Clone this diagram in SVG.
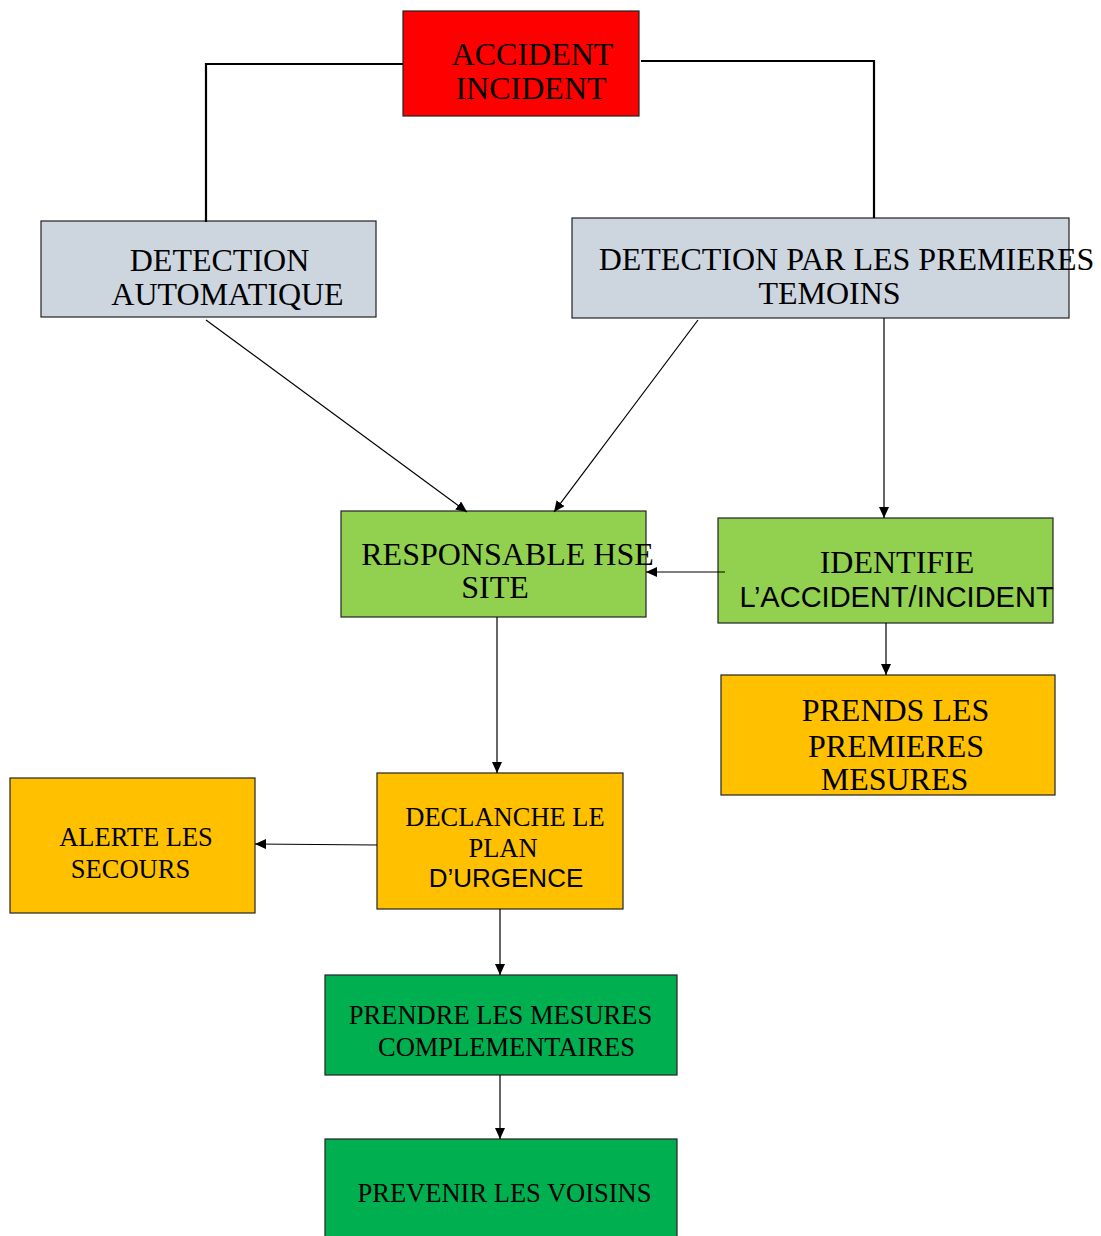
<svg xmlns="http://www.w3.org/2000/svg" width="1101" height="1236" viewBox="0 0 1101 1236">
<style>
  .box { stroke: #222; stroke-width: 1.2; }
  .t { font-family: "Liberation Serif", "Times New Roman", serif; fill: #000; text-anchor: middle; }
  .s { font-family: "Liberation Sans", Arial, sans-serif; fill: #000; text-anchor: middle; }
  .big { font-size: 32px; }
  .mid { font-size: 26.5px; }
  .conn { stroke: #000; fill: none; stroke-width: 1.2; }
  .thick { stroke: #000; fill: none; stroke-width: 2.2; }
</style>
<defs>
  <marker id="arr" markerUnits="userSpaceOnUse" markerWidth="12" markerHeight="10" refX="11" refY="5" orient="auto">
    <path d="M0,0 L11,5 L0,10 Z" fill="#000"/>
  </marker>
</defs>
<rect width="1101" height="1236" fill="#fff"/>
<g id="accident">
  <rect class="box" x="403" y="11" width="236" height="105" fill="#FF0000"/>
  <text class="t big" x="532.5" y="65">ACCIDENT</text>
  <text class="t big" x="531" y="99">INCIDENT</text>
</g>
<g id="detection-auto">
  <rect class="box" x="41" y="221" width="335" height="96" fill="#CDD5DF"/>
  <text class="t big" x="219.5" y="271">DETECTION</text>
  <text class="t big" x="227.5" y="305">AUTOMATIQUE</text>
</g>
<g id="detection-temoins">
  <rect class="box" x="572" y="218" width="497" height="100" fill="#CDD5DF"/>
  <text class="t big" x="846.5" y="270">DETECTION PAR LES PREMIERES</text>
  <text class="t big" x="829.5" y="304">TEMOINS</text>
</g>
<g id="responsable">
  <rect class="box" x="341" y="511" width="305" height="106" fill="#92D050"/>
  <text class="t big" x="507.5" y="565">RESPONSABLE HSE</text>
  <text class="t big" x="495" y="598">SITE</text>
</g>
<g id="identifie">
  <rect class="box" x="718" y="518" width="335" height="105" fill="#92D050"/>
  <text class="t big" x="897" y="573">IDENTIFIE</text>
  <text class="s" font-size="29" x="896.5" y="607">L’ACCIDENT/INCIDENT</text>
</g>
<g id="prends">
  <rect class="box" x="721" y="675" width="334" height="120" fill="#FFC000"/>
  <text class="t big" x="895.5" y="721">PRENDS LES</text>
  <text class="t big" x="896" y="757">PREMIERES</text>
  <text class="t big" x="894.5" y="790">MESURES</text>
</g>
<g id="declanche">
  <rect class="box" x="377" y="773" width="246" height="136" fill="#FFC000"/>
  <text class="t mid" x="505" y="826">DECLANCHE LE</text>
  <text class="t mid" x="503" y="857">PLAN</text>
  <text class="s" font-size="26" x="506" y="887">D’URGENCE</text>
</g>
<g id="alerte">
  <rect class="box" x="10" y="778" width="245" height="135" fill="#FFC000"/>
  <text class="t mid" x="136" y="846">ALERTE LES</text>
  <text class="t mid" x="130.5" y="878">SECOURS</text>
</g>
<g id="complementaires">
  <rect class="box" x="325" y="975" width="352" height="100" fill="#00B050"/>
  <text class="t mid" x="500.5" y="1024">PRENDRE LES MESURES</text>
  <text class="t mid" x="506.5" y="1056">COMPLEMENTAIRES</text>
</g>
<g id="voisins">
  <rect class="box" x="325" y="1139" width="352" height="110" fill="#00B050"/>
  <text class="t mid" x="504.5" y="1202">PREVENIR LES VOISINS</text>
</g>
<g id="connectors">
  <polyline class="thick" points="403,64 206,64 206,222"/>
  <polyline class="thick" points="641,61 874,61 874,218"/>
  <line class="conn" x1="206" y1="320" x2="467" y2="512" marker-end="url(#arr)"/>
  <line class="conn" x1="698" y1="320" x2="554" y2="512" marker-end="url(#arr)"/>
  <line class="conn" x1="884" y1="318" x2="884" y2="518" marker-end="url(#arr)"/>
  <line class="conn" x1="725" y1="572" x2="646" y2="572" marker-end="url(#arr)"/>
  <line class="conn" x1="886" y1="623" x2="886" y2="675" marker-end="url(#arr)"/>
  <line class="conn" x1="497" y1="617" x2="497" y2="773" marker-end="url(#arr)"/>
  <line class="conn" x1="377" y1="845" x2="255" y2="844" marker-end="url(#arr)"/>
  <line class="conn" x1="500" y1="909" x2="500" y2="975" marker-end="url(#arr)"/>
  <line class="conn" x1="500" y1="1075" x2="500" y2="1139" marker-end="url(#arr)"/>
</g>
</svg>
